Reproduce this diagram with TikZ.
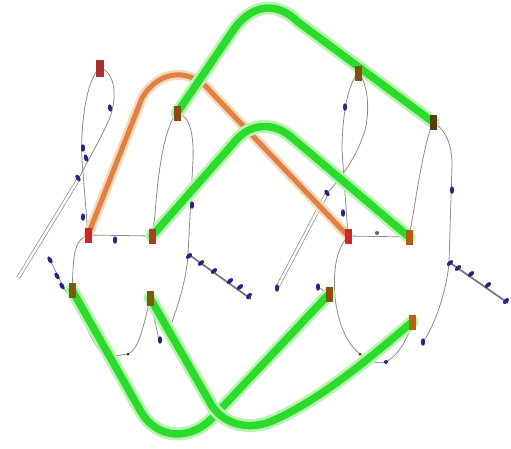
\documentclass[tikz,border=0pt]{standalone}
\usetikzlibrary{backgrounds,shapes.geometric}
\definecolor{gcore}{HTML}{2CDC2C}
\definecolor{ghalo}{HTML}{B8F4B0}
\definecolor{ocore}{HTML}{E08044}
\definecolor{ohalo}{HTML}{F8D8B8}
\definecolor{navy}{HTML}{262680}
\definecolor{thin}{HTML}{8C8C8C}
\definecolor{cred}{HTML}{D02828}
\definecolor{cdred}{HTML}{A83030}
\definecolor{cbrown}{HTML}{8A4A14}
\definecolor{cbred}{HTML}{A84020}
\definecolor{colive}{HTML}{7A5A14}
\definecolor{corange}{HTML}{B86414}
\tikzset{
  nd/.style={rectangle, minimum width=7pt, minimum height=15pt, inner sep=0pt},
  dot/.style={circle, minimum size=4pt, inner sep=0pt},
  mk/.style={ellipse, fill=navy, minimum width=4.2pt, minimum height=7.5pt, inner sep=0pt},
  thinline/.style={draw=thin, line width=0.8pt},
  dbl/.style={draw=thin, line width=0.7pt, double=white, double distance=2.4pt},
  chain/.style={draw=thin!80!navy, line width=1.8pt},
  gline/.style={draw=gcore, line width=7.5pt, line cap=round, line join=round,
    preaction={draw=ghalo, line width=13pt, line cap=round, line join=round}},
  oline/.style={draw=ocore, line width=5pt, line cap=round, line join=round,
    preaction={draw=ohalo, line width=10pt, line cap=round, line join=round}}
}
\begin{document}
\begin{tikzpicture}[x=1pt,y=-1pt]
\useasboundingbox (0,0) rectangle (511,448);
% nodes
\node[nd, fill=cdred, minimum width=8pt, minimum height=17pt] (L1) at (100,68) {};
\node[nd, fill=cbrown] (L2) at (177,113) {};
\node[nd, fill=cred] (L3) at (88,235) {};
\node[nd, fill=cbred] (L4) at (152,236) {};
\node[nd, fill=colive] (L5) at (72,290) {};
\node[nd, fill=colive!80!cbrown] (L6) at (150,298) {};
\node[dot, fill=purple!70!navy, minimum size=3pt] (Lp) at (128,354) {};
\node[nd, fill=cbrown] (R1) at (358,73) {};
\node[nd, fill=colive!70!black] (R2) at (433,122) {};
\node[nd, fill=cred] (R3) at (348,236) {};
\node[nd, fill=corange!80!cbrown] (R4) at (409,237) {};
\node[nd, fill=cbrown!80!colive] (R5) at (329,294) {};
\node[nd, fill=corange] (R6) at (412,322) {};
\node[dot, fill=green!40!black, minimum size=3pt] (Rg) at (360,354) {};
\node[dot, fill=navy, minimum size=4pt] (Rb) at (386,362) {};
% free ends
\coordinate (La) at (78,180);
\coordinate (Lb) at (18,278);
\coordinate (Lc) at (188,254);
\coordinate (Ld) at (251,299);
\coordinate (Le) at (172,322);
\coordinate (Lf) at (107,357);
\coordinate (Lg) at (48,256);
\coordinate (Lh) at (66,292);
\coordinate (Li) at (159,340);
\coordinate (Ra) at (327,193);
\coordinate (Rbb) at (277,288);
\coordinate (Rc) at (449,262);
\coordinate (Rd) at (508,303);
\coordinate (Re) at (423,342);
\coordinate (Rf) at (318,287);
% markers
\node[mk, rotate=10] (m1) at (110,108) {};
\node[mk] (m2) at (83,148) {};
\node[mk, rotate=20] (m3) at (86,158) {};
\node[mk, rotate=30] (m4) at (78,178) {};
\node[mk] (m5) at (83,217) {};
\node[mk] (m6) at (115,240) {};
\node[mk, rotate=30] (m7) at (50,260) {};
\node[mk, rotate=30] (m8) at (57,276) {};
\node[mk, rotate=30] (m9) at (62,286) {};
\node[mk] (m10) at (192,205) {};
\node[mk, rotate=-50] (m11) at (189,256) {};
\node[mk, rotate=-50] (m12) at (201,263) {};
\node[mk, rotate=-50] (m13) at (214,271) {};
\node[mk, rotate=-50] (m14) at (230,281) {};
\node[mk, rotate=-50] (m15) at (240,287) {};
\node[mk, rotate=-40] (m16) at (249,296) {};
\node[mk] (m17) at (160,340) {};
\node[mk] (m18) at (345,107) {};
\node[mk] (m19) at (343,213) {};
\node[mk, rotate=30] (m20) at (327,193) {};
\node[mk] (m21) at (277,288) {};
\node[mk] (m22) at (318,287) {};
\node[mk] (m23) at (452,190) {};
\node[mk, rotate=-50] (m24) at (450,263) {};
\node[mk, rotate=-50] (m25) at (458,268) {};
\node[mk, rotate=-50] (m26) at (471,274) {};
\node[mk, rotate=-50] (m27) at (488,285) {};
\node[mk, rotate=-45] (m28) at (506,301) {};
\node[mk] (m29) at (423,342) {};
\node[mk, minimum height=4pt, fill=thin!60!navy] (m30) at (377,233) {};
\begin{pgfonlayer}{background}
% thin edges, left
\draw[thinline] (L1.center) .. controls (86,78) and (80,130) .. (82,160) -- (L3.center);
\draw[thinline] (L1.center) .. controls (116,72) and (118,100) .. (108,122) .. controls (100,140) and (88,160) .. (La);
\draw[dbl] (La) -- (Lb);
\draw[thinline] (L3.center) -- (L4.center);
\draw[thinline] (L3.center) .. controls (76,240) and (74,250) .. (73,270) -- (L5.center);
\draw[thinline] (Lg) -- (Lh);
\draw[thinline] (L2.center) .. controls (165,125) and (158,170) .. (155,215) -- (L4.center);
\draw[thinline] (L2.center) .. controls (190,115) and (194,135) .. (193,160) -- (Lc) .. controls (187,275) and (180,300) .. (Le);
\draw[chain] (Lc) -- (Ld);
\draw[thinline] (L5.center) .. controls (82,320) and (95,350) .. (Lf) -- (Lp.center) .. controls (138,350) and (143,330) .. (L6.center);
\draw[thinline] (L6.center) -- (Li);
% thin edges, right
\draw[thinline] (R1.center) .. controls (347,85) and (342,120) .. (342,150) -- (R3.center);
\draw[thinline] (R1.center) .. controls (368,82) and (370,110) .. (365,130) .. controls (358,155) and (340,180) .. (Ra);
\draw[dbl] (Ra) -- (Rbb);
\draw[thinline] (R3.center) -- (R4.center);
\draw[thinline] (R3.center) .. controls (336,250) and (333,270) .. (335,297) .. controls (338,325) and (348,345) .. (Rg.center) .. controls (370,362) and (378,364) .. (Rb.center) .. controls (398,355) and (408,340) .. (R6.center);
\draw[thinline] (R5.center) -- (Rf);
\draw[thinline] (R2.center) .. controls (425,140) and (417,190) .. (413,215) -- (R4.center);
\draw[thinline] (R2.center) .. controls (446,130) and (452,145) .. (452,165) -- (Rc) .. controls (447,290) and (435,325) .. (Re);
\draw[chain] (Rc) -- (Rd);
% thick curves
\draw[oline] (L3.center) -- (142,98) .. controls (160,68) and (192,68) .. (212,93) -- (R3.center);
\draw[gline] (L2.center) -- (232,32) .. controls (252,2) and (278,2) .. (298,22) -- (R2.center);
\draw[gline] (L4.center) -- (238,138) .. controls (254,122) and (275,124) .. (290,136) -- (R4.center);
\draw[gline] (L5.center) -- (140,410) .. controls (156,440) and (192,442) .. (215,415) -- (R5.center);
\draw[gline] (L6.center) -- (212,406) .. controls (226,426) and (250,430) .. (272,421) .. controls (320,400) and (370,358) .. (R6.center);
\end{pgfonlayer}
\end{tikzpicture}
\end{document}
